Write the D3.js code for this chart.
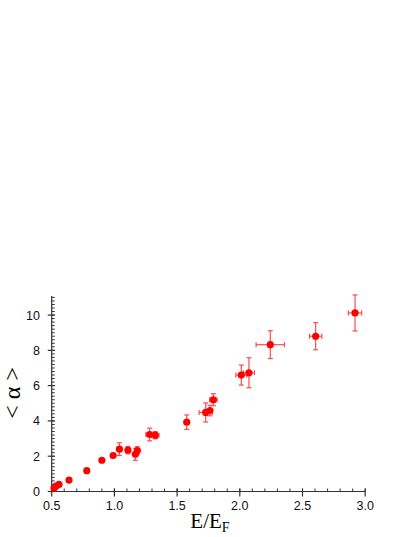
<!DOCTYPE html>
<html><head><meta charset="utf-8">
<script src="https://cdn.jsdelivr.net/npm/d3@7"></script>
<style>html,body{margin:0;padding:0;background:#fff;}svg{display:block;}</style>
</head><body>
<script>
const energy = [0.518,0.534,0.558,0.638,0.78,0.90,0.99,1.04,1.108,1.167,1.183,1.281,1.326,1.577,1.728,1.762,1.789,2.012,2.073,2.243,2.605,2.919];
const alpha  = [0.20,0.30,0.40,0.65,1.18,1.77,2.04,2.40,2.34,2.11,2.32,3.23,3.19,3.93,4.48,4.59,5.20,6.60,6.73,8.32,8.80,10.12];
const energyErr = [0,0,0,0.005,0.01,0.01,0.01,0.01,0.02,0.02,0.015,0.03,0.03,0.025,0.053,0.027,0.03,0.043,0.044,0.113,0.049,0.053];
const alphaErr  = [0,0,0.04,0.05,0.08,0.1,0.12,0.36,0.2,0.34,0.22,0.36,0.2,0.41,0.54,0.3,0.34,0.57,0.85,0.79,0.77,1.02];
const xTicks = [0.5,1.0,1.5,2.0,2.5,3.0];
const yTicks = [0,2,4,6,8,10];

const W = 415, H = 537;
const svg = d3.select("body").append("svg").attr("width", W).attr("height", H);
const x = d3.scaleLinear().domain([0.5, 3.0]).range([51.7, 365.2]);
const y = d3.scaleLinear().domain([0, 11.08]).range([491.5, 296]);

const pts = energy.map((e,i)=>({x:e, y:alpha[i], ex:energyErr[i], ey:alphaErr[i]}));

// axes lines
const axisColor = "#333";
svg.append("line").attr("x1", x(0.5)).attr("x2", x(3.0)).attr("y1", y(0)).attr("y2", y(0)).attr("stroke", axisColor).attr("stroke-width", 1.2);
svg.append("line").attr("x1", x(0.5)).attr("x2", x(0.5)).attr("y1", y(0)).attr("y2", y(11.08)).attr("stroke", axisColor).attr("stroke-width", 1.2);

// x minor ticks
const xMinor = d3.range(5, 31).map(v=>v/10);
svg.append("g").selectAll("line").data(xMinor).join("line")
  .attr("x1", d=>x(d)).attr("x2", d=>x(d))
  .attr("y1", y(0)).attr("y2", y(0)-3).attr("stroke", axisColor).attr("stroke-width", 1);
svg.append("g").selectAll("line").data(xTicks).join("line")
  .attr("x1", d=>x(d)).attr("x2", d=>x(d))
  .attr("y1", y(0)+5).attr("y2", y(0)-3).attr("stroke", axisColor).attr("stroke-width", 1.2);
svg.append("g").selectAll("text").data(xTicks).join("text")
  .attr("x", d=>x(d)).attr("y", 510).attr("text-anchor","middle")
  .attr("font-family","'Liberation Sans', Arial, sans-serif").attr("font-size", 12.5).attr("fill","#111")
  .text(d=>d.toFixed(1));

// y minor ticks
const yMinor = d3.range(0, 56).map(v=>v/5);
svg.append("g").selectAll("line").data(yMinor).join("line")
  .attr("x1", x(0.5)).attr("x2", x(0.5)+3)
  .attr("y1", d=>y(d)).attr("y2", d=>y(d)).attr("stroke", axisColor).attr("stroke-width", 1);
svg.append("g").selectAll("line").data(yTicks).join("line")
  .attr("x1", x(0.5)-4).attr("x2", x(0.5)+3)
  .attr("y1", d=>y(d)).attr("y2", d=>y(d)).attr("stroke", axisColor).attr("stroke-width", 1.2);
svg.append("g").selectAll("text").data(yTicks).join("text")
  .attr("x", 40).attr("y", d=>y(d)+4.5).attr("text-anchor","end")
  .attr("font-family","'Liberation Sans', Arial, sans-serif").attr("font-size", 12.5).attr("fill","#111")
  .text(d=>d);

// error bars
const errColor = "#ff4a4a";
const eb = svg.append("g").attr("stroke", errColor).attr("stroke-width", 1.2).attr("fill","none");
const cap = 2.5;
pts.forEach(p=>{
  const cx = x(p.x), cy = y(p.y);
  if (y(p.y-p.ey) - y(p.y+p.ey) > 7) {
    eb.append("line").attr("x1",cx).attr("x2",cx).attr("y1",y(p.y-p.ey)).attr("y2",y(p.y+p.ey));
    eb.append("line").attr("x1",cx-cap).attr("x2",cx+cap).attr("y1",y(p.y-p.ey)).attr("y2",y(p.y-p.ey));
    eb.append("line").attr("x1",cx-cap).attr("x2",cx+cap).attr("y1",y(p.y+p.ey)).attr("y2",y(p.y+p.ey));
  }
  if (x(p.x+p.ex) - x(p.x-p.ex) > 7) {
    eb.append("line").attr("y1",cy).attr("y2",cy).attr("x1",x(p.x-p.ex)).attr("x2",x(p.x+p.ex));
    eb.append("line").attr("y1",cy-cap).attr("y2",cy+cap).attr("x1",x(p.x-p.ex)).attr("x2",x(p.x-p.ex));
    eb.append("line").attr("y1",cy-cap).attr("y2",cy+cap).attr("x1",x(p.x+p.ex)).attr("x2",x(p.x+p.ex));
  }
});

// points
svg.append("g").selectAll("circle").data(pts).join("circle")
  .attr("cx", d=>x(d.x)).attr("cy", d=>y(d.y)).attr("r", 3.6).attr("fill", "#ff0000");

// x label
const xl = svg.append("text").attr("x", 210).attr("y", 528).attr("text-anchor","middle")
  .attr("font-family","'Liberation Serif', 'Times New Roman', serif").attr("font-size", 21).attr("fill","#000");
xl.append("tspan").text("E/E");
xl.append("tspan").attr("dy", 4).attr("font-size", 14).text("F");

// y label
svg.append("text").attr("transform", "translate(20,393) rotate(-90)").attr("text-anchor","middle")
  .attr("font-family","'Liberation Serif', 'Times New Roman', serif").attr("font-size", 24).attr("fill","#000")
  .text("< α >");
</script>
</body></html>
